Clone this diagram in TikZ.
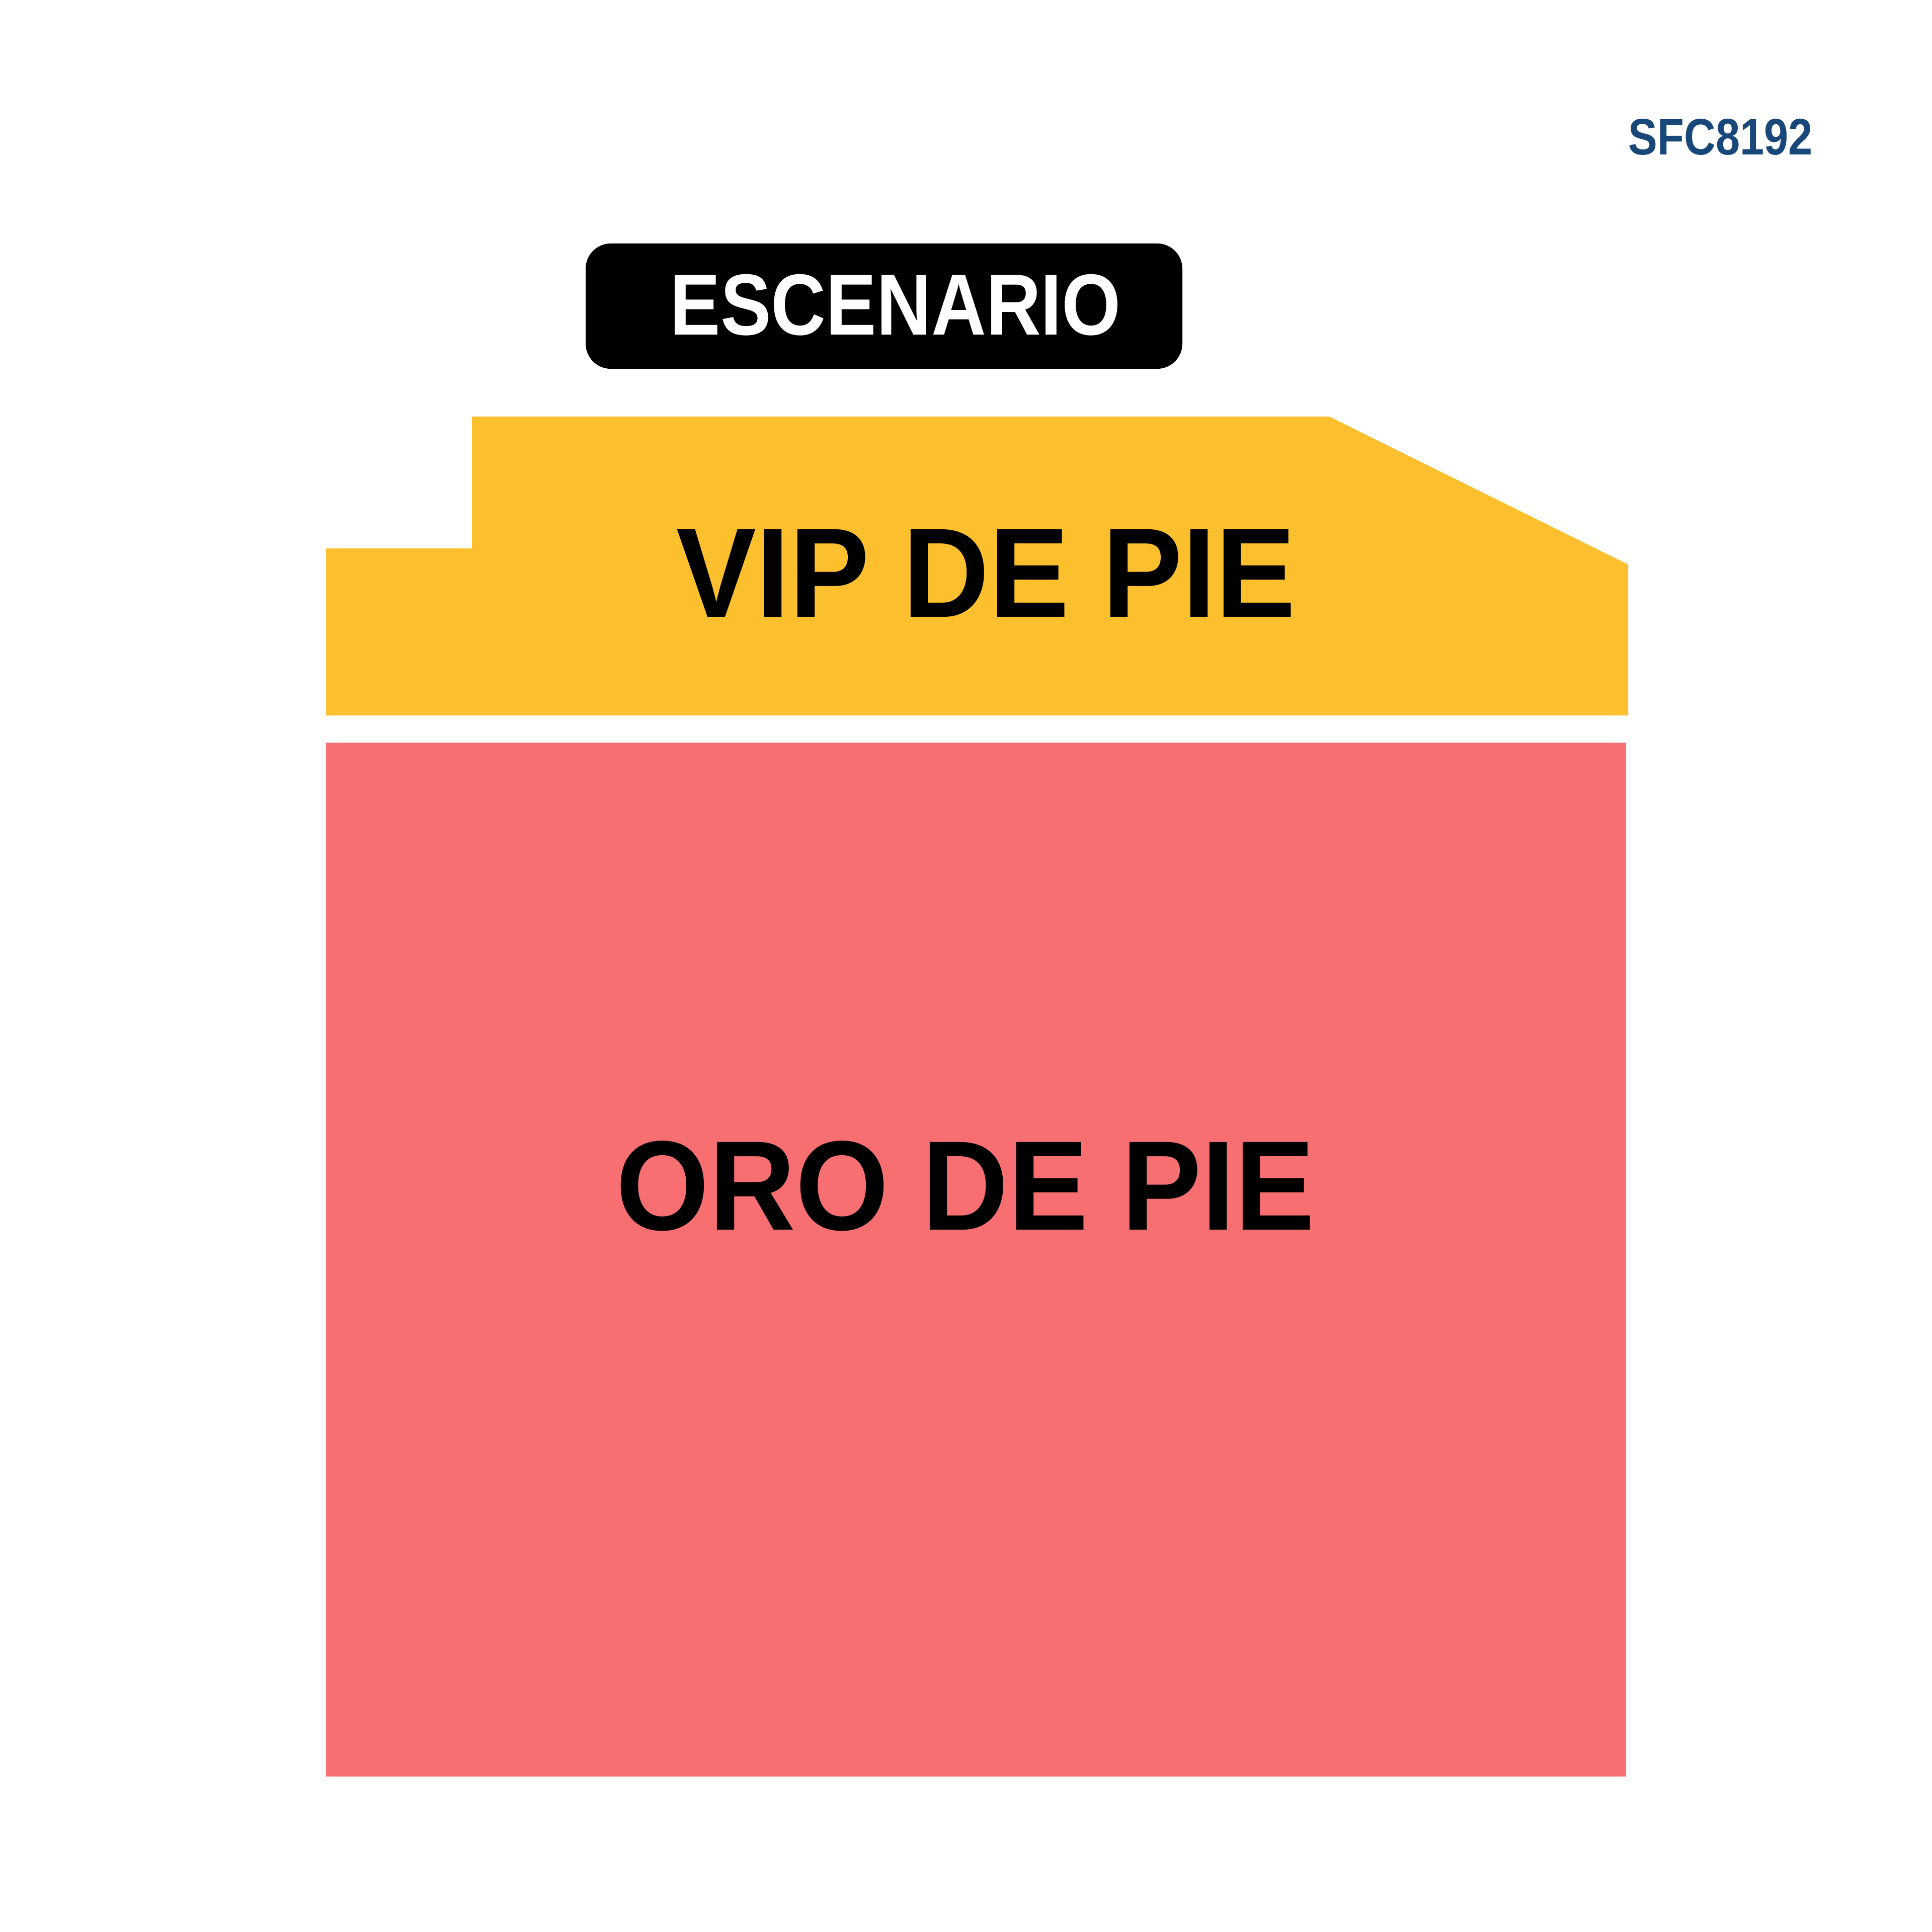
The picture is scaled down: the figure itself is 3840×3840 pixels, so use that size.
\documentclass[tikz,border=0pt]{standalone}
\usepackage{fontspec}
\setmainfont{Liberation Sans}
\newfontfamily\zonefont[FakeStretch=0.94]{Liberation Sans}
\newfontfamily\stagefont[FakeStretch=0.875]{Liberation Sans}
\newfontfamily\codefont[FakeStretch=0.85]{Liberation Sans}
\definecolor{vipyellow}{RGB}{252,192,46}
\definecolor{orored}{RGB}{248,111,113}
\definecolor{codeblue}{RGB}{24,72,122}
\begin{document}
\begin{tikzpicture}[x=0.01cm,y=-0.01cm,
    zonelabel/.style={font=\zonefont\fontsize{72}{72}\selectfont\bfseries,anchor=base,inner sep=0pt}]
      \useasboundingbox[fill=white] (0,0) rectangle (3840,3840);
      % zonas
      \fill[vipyellow] (938,828) -- (2642,828) -- (3236,1122) -- (3236,1422)
        -- (648,1422) -- (648,1090) -- (938,1090) -- cycle;
      \fill[orored] (648,1476) rectangle (3232,3531);
      % escenario
      \fill[black,rounded corners=0.5cm] (1164,484) rectangle (2350,733);
      \draw
        (1780,666) node[anchor=base,inner sep=0pt,text=white,
          font=\stagefont\fontsize{49}{49}\selectfont\bfseries] (escenario){ESCENARIO}
        (1960,1226) node[zonelabel] (vip){VIP DE PIE}
        (1919,2444) node[zonelabel] (oro){ORO DE PIE}
        (3420,308) node[anchor=base,inner sep=0pt,text=codeblue,
          font=\codefont\fontsize{29}{29}\selectfont\bfseries] (codigo){SFC8192};
    \end{tikzpicture}
\end{document}
